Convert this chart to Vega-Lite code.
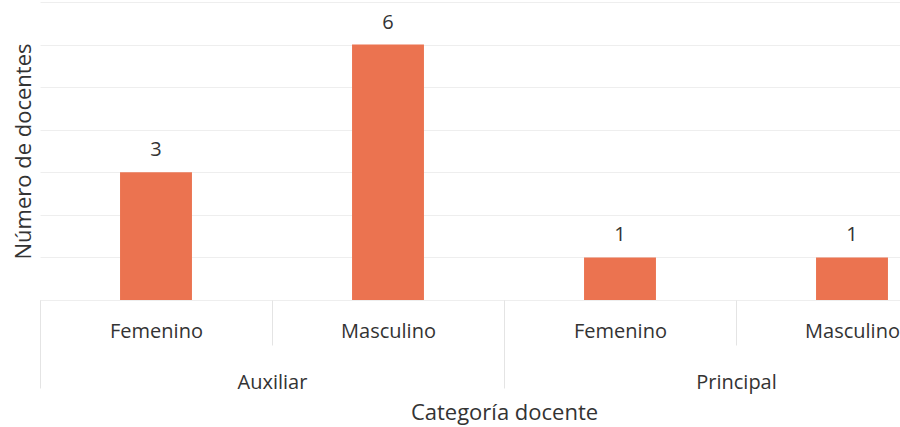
{
  "$schema": "https://vega.github.io/schema/vega-lite/v6.json",
  "width": 860,
  "height": 298,
  "autosize": {"type": "none"},
  "padding": {"left": 40, "top": 2, "right": 0, "bottom": 127},
  "background": "white",
  "config": {"view": {"stroke": null}, "font": "Open Sans"},
  "data": {"values": [
    {"categoria": "Auxiliar", "genero": "Femenino", "clave": "Auxiliar|Femenino", "n": 3},
    {"categoria": "Auxiliar", "genero": "Masculino", "clave": "Auxiliar|Masculino", "n": 6},
    {"categoria": "Principal", "genero": "Femenino", "clave": "Principal|Femenino", "n": 1},
    {"categoria": "Principal", "genero": "Masculino", "clave": "Principal|Masculino", "n": 1}
  ]},
  "layer": [
    {
      "encoding": {
        "x": {"field": "clave", "type": "nominal", "sort": null,
          "scale": {"range": [0, 928], "paddingInner": 0, "paddingOuter": 0},
          "axis": {"title": null, "labelExpr": "split(datum.label,'|')[1]", "labelAngle": 0, "labelFontSize": 20, "labelColor": "#333333", "labelFont": "Open Sans", "tickBand": "extent", "tickSize": 45, "tickColor": "#e4e4e4", "labelPadding": -24, "domain": false, "grid": false}},
        "y": {"field": "n", "type": "quantitative", "scale": {"domain": [0, 7]},
          "axis": {"title": "Número de docentes", "labels": false, "ticks": false, "domain": false, "gridColor": "#eeeeee", "values": [0, 1, 2, 3, 4, 5, 6, 7], "titleFontSize": 22, "titleFontWeight": "normal", "titleColor": "#333333", "titleFont": "Open Sans", "titlePadding": 5}}
      },
      "layer": [
        {"mark": {"type": "bar", "color": "#EB7350", "width": {"band": 0.31}}},
        {"mark": {"type": "text", "fontSize": 20, "baseline": "bottom", "dy": -12, "color": "#333333", "font": "Open Sans"},
         "encoding": {"text": {"field": "n", "type": "quantitative"}}}
      ]
    },
    {
      "mark": {"type": "point", "opacity": 0},
      "encoding": {
        "x": {"field": "categoria", "type": "nominal", "sort": null,
          "scale": {"range": [0, 928], "paddingInner": 0, "paddingOuter": 0},
          "axis": {"orient": "bottom", "title": "Categoría docente", "labelAngle": 0, "labelFontSize": 20, "labelColor": "#333333", "labelFont": "Open Sans", "tickBand": "extent", "tickSize": 88, "tickColor": "#e4e4e4", "labelPadding": -16, "domain": false, "grid": false, "titleFontSize": 22, "titleFontWeight": "normal", "titleColor": "#333333", "titleFont": "Open Sans", "titlePadding": 10}}
      }
    }
  ],
  "resolve": {"scale": {"x": "independent"}, "axis": {"x": "independent"}}
}
